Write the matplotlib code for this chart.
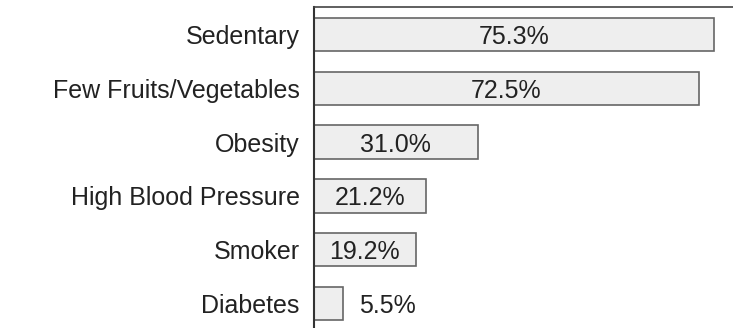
import matplotlib
matplotlib.use("Agg")
import matplotlib.pyplot as plt

categories = ["Sedentary", "Few Fruits/Vegetables", "Obesity",
              "High Blood Pressure", "Smoker", "Diabetes"]
values = [75.3, 72.5, 31.0, 21.2, 19.2, 5.5]
value_labels = ["75.3%", "72.5%", "31.0%", "21.2%", "19.2%", "5.5%"]

plt.rcParams['font.family'] = ['Liberation Sans', 'DejaVu Sans']
FS = 18

fig = plt.figure(figsize=(7.33, 3.28), dpi=100)
ax = fig.add_axes([313.5 / 733, 0.0, 1 - 313.5 / 733, 1 - 7 / 328])

ypos = list(range(len(categories)))
ax.barh(ypos, values, height=0.62, color="#eeeeee", edgecolor="#666666",
        linewidth=1.2, zorder=2)

ax.set_xlim(0, 78.9)
ax.set_ylim(5.455, -0.51)

for y, v, lab in zip(ypos, values, value_labels):
    if v < 10:
        ax.annotate(lab, xy=(v, y), xytext=(12, 0), textcoords="offset points",
                    ha="left", va="center_baseline", fontsize=FS, color="#222222")
    else:
        ax.text(v / 2, y, lab, ha="center", va="center_baseline", fontsize=FS,
                color="#222222", zorder=3)

ax.set_yticks(ypos)
ax.set_yticklabels(categories, fontsize=FS, color="#222222", va="center_baseline")
ax.tick_params(axis="y", length=0, pad=10)
ax.set_xticks([])

for s in ["right", "bottom"]:
    ax.spines[s].set_visible(False)
ax.spines["left"].set_color("#333333")
ax.spines["left"].set_linewidth(1.5)
ax.spines["top"].set_color("#444444")
ax.spines["top"].set_linewidth(1.2)

fig.savefig("out.png", dpi=100)
